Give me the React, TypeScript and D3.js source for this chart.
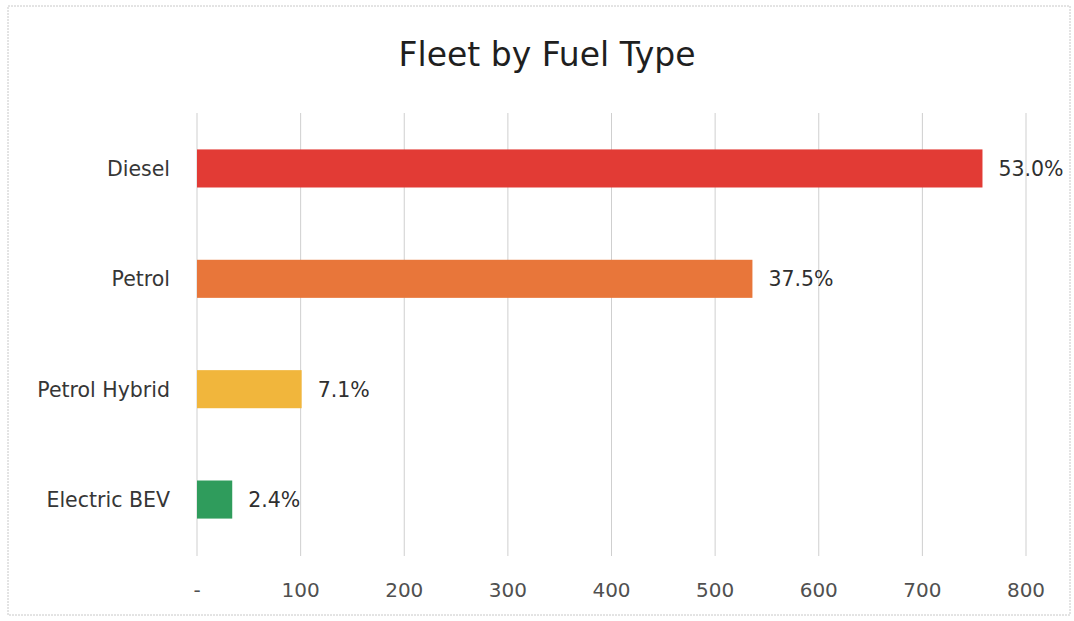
import React from "react";
import * as d3 from "d3";

const categories = ["Diesel", "Petrol", "Petrol Hybrid", "Electric BEV"];
const counts = [758, 536, 101, 34];
const colors = ["#e23b35", "#e8763a", "#f1b63c", "#2f9c5c"];
const ticks = [0, 100, 200, 300, 400, 500, 600, 700, 800];

const width = 1074;
const height = 621;
const marginLeft = 197;
const marginRight = 48;
const marginTop = 113;
const marginBottom = 66;

export default function App() {
  const total = d3.sum(counts);

  const x = d3
    .scaleLinear()
    .domain([0, 800])
    .range([marginLeft, width - marginRight]);

  const y = d3
    .scaleBand()
    .domain(categories)
    .range([marginTop, height - marginBottom])
    .paddingInner(0.655)
    .paddingOuter(0.33);

  const font = "'DejaVu Sans', Verdana, sans-serif";

  return (
    <svg
      width={width}
      height={height}
      style={{ position: "absolute", left: 0, top: 0, background: "#fff" }}
    >
      {/* outer frame */}
      <rect
        x={8}
        y={6}
        width={width - 12}
        height={height - 12}
        fill="#fff"
        stroke="#c8c8c8"
        strokeDasharray="2,1"
      />

      <text
        x={547}
        y={66}
        textAnchor="middle"
        fontFamily={font}
        fontSize={33}
        fill="#1f1f1f"
      >
        Fleet by Fuel Type
      </text>

      {/* gridlines */}
      {ticks.map((t) => (
        <line
          key={t}
          x1={x(t)}
          x2={x(t)}
          y1={marginTop}
          y2={height - marginBottom + 1}
          stroke="#cfcfcf"
          strokeWidth={1}
        />
      ))}

      {/* x tick labels */}
      {ticks.map((t) => (
        <text
          key={"l" + t}
          x={x(t)}
          y={597}
          textAnchor="middle"
          fontFamily={font}
          fontSize={20}
          fill="#505050"
        >
          {t === 0 ? "-" : t}
        </text>
      ))}

      {/* bars */}
      {categories.map((c, i) => (
        <g key={c}>
          <rect
            x={x(0)}
            y={y(c)}
            width={x(counts[i]) - x(0)}
            height={y.bandwidth()}
            fill={colors[i]}
          />
          <text
            x={x(0) - 27}
            y={(y(c) as number) + y.bandwidth() / 2}
            dy="0.36em"
            textAnchor="end"
            fontFamily={font}
            fontSize={20.5}
            fill="#363636"
          >
            {c}
          </text>
          <text
            x={x(counts[i]) + 16}
            y={(y(c) as number) + y.bandwidth() / 2}
            dy="0.36em"
            fontFamily={font}
            fontSize={20.5}
            fill="#2f2f2f"
          >
            {d3.format(".1%")(counts[i] / total)}
          </text>
        </g>
      ))}
    </svg>
  );
}
